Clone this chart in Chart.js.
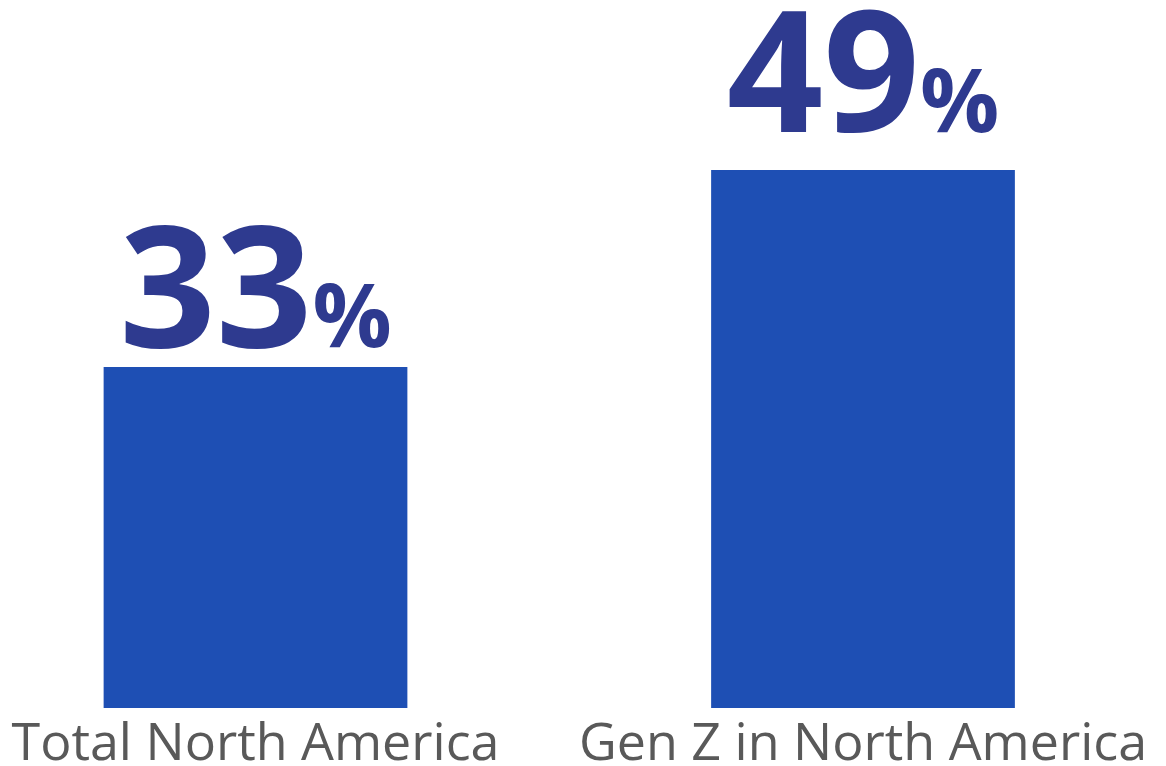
<!DOCTYPE html>
<html>
<head>
<meta charset="utf-8">
<title>Share by group</title>
<script src="https://cdn.jsdelivr.net/npm/chart.js@4/dist/chart.umd.min.js"></script>
<style>
  html, body { margin: 0; padding: 0; background: #ffffff; }
  #wrap { width: 1166px; height: 766px; }
</style>
</head>
<body>
<div id="wrap"><canvas id="chart" width="1166" height="766"></canvas></div>
<script>
// Categories and values
const categories = ['Total North America', 'Gen Z in North America'];
const shareValues = [33, 49];
const valueSuffix = '%';

const BAR_COLOR = '#1E4FB4';
const VALUE_COLOR = '#2E3A8F';
const LABEL_COLOR = '#595959';
const FONT = '"Open Sans", "Noto Sans", "DejaVu Sans", sans-serif';

// Draws each bar's value as a large number followed by a smaller percent sign
const valueLabels = {
  id: 'valueLabels',
  afterDatasetsDraw(chart, args, opts) {
    const ctx = chart.ctx;
    const meta = chart.getDatasetMeta(0);
    const values = chart.data.datasets[0].data;
    ctx.save();
    ctx.fillStyle = opts.color;
    ctx.textBaseline = 'alphabetic';
    ctx.textAlign = 'left';
    meta.data.forEach((bar, i) => {
      const numText = String(values[i]);
      const numFont = `700 ${opts.numberSize}px ${FONT}`;
      const sufFont = `700 ${opts.suffixSize}px ${FONT}`;
      ctx.font = numFont;
      const wNum = ctx.measureText(numText).width;
      ctx.font = sufFont;
      const wSuf = ctx.measureText(valueSuffix).width;
      const total = wNum + opts.spacing + wSuf;
      const x0 = bar.x - total / 2;
      const y = bar.y - opts.gaps[i];
      ctx.font = numFont;
      ctx.fillText(numText, x0, y);
      ctx.font = sufFont;
      ctx.fillText(valueSuffix, x0 + wNum + opts.spacing, y);
    });
    ctx.restore();
  }
};

new Chart(document.getElementById('chart'), {
  type: 'bar',
  data: {
    labels: categories,
    datasets: [{
      data: shareValues,
      backgroundColor: BAR_COLOR,
      borderWidth: 0,
      categoryPercentage: 1,
      barPercentage: 0.5,
      // bars sit on the category edges, so let them spill sideways but not below the base
      clip: { left: false, right: false, top: false, bottom: 0 }
    }]
  },
  plugins: [valueLabels],
  options: {
    responsive: false,
    devicePixelRatio: 1,
    animation: false,
    layout: { padding: { left: 255.5, right: 303, top: 96, bottom: -17 } },
    plugins: {
      legend: { display: false },
      tooltip: { enabled: false },
      valueLabels: {
        color: VALUE_COLOR,
        numberSize: 169,
        suffixSize: 88,
        spacing: 0,
        gaps: [20, 38]
      }
    },
    scales: {
      x: {
        type: 'category',
        offset: false,
        grid: { display: false, drawTicks: false },
        border: { display: false },
        // the side margins come from the layout padding alone
        afterFit(scale) {
          scale.paddingLeft = 0;
          scale.paddingRight = 0;
        },
        ticks: {
          color: LABEL_COLOR,
          padding: 14.1,
          maxRotation: 0,
          autoSkip: false,
          font: { family: FONT, size: 52, lineHeight: 0.9 }
        }
      },
      y: {
        display: false,
        min: 5.3,
        max: 55
      }
    }
  }
});
</script>
</body>
</html>
